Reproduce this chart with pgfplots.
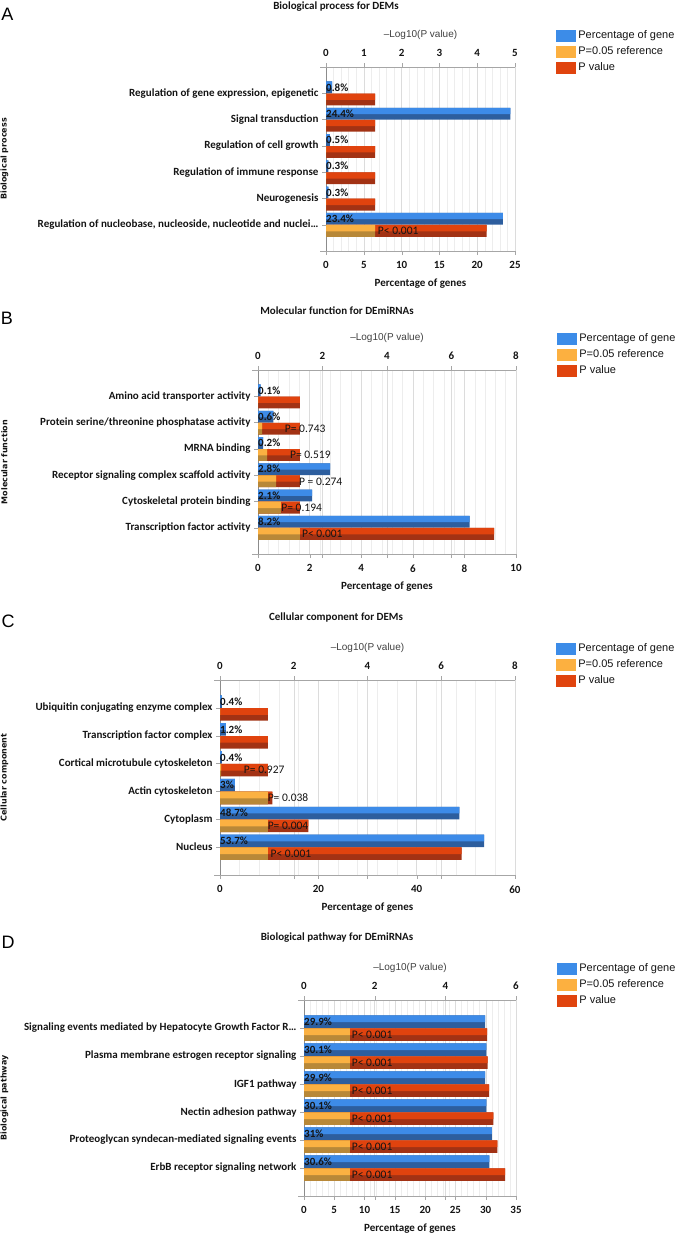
\documentclass[border=0pt]{standalone}
\usepackage{fontspec}
\setmainfont{Carlito}
\newfontfamily\lib{Liberation Sans}
\newfontfamily\dvs{DejaVu Sans}
\usepackage{pgfplots}
\usepackage{pgfplotstable}
\pgfplotsset{compat=1.18}

\definecolor{bluL}{HTML}{3D8BE8}
\definecolor{bluD}{HTML}{2D5E9E}
\definecolor{oraL}{HTML}{FBB142}
\definecolor{oraD}{HTML}{B88838}
\definecolor{redL}{HTML}{E0430E}
\definecolor{redD}{HTML}{A23214}
\definecolor{legB}{HTML}{3C8CE8}
\definecolor{legO}{HTML}{FCB040}
\definecolor{legR}{HTML}{E0440E}
\definecolor{gridM}{HTML}{DCDCDC}
\definecolor{gridN}{HTML}{EDEDED}
\definecolor{axG}{HTML}{A6A6A6}
\definecolor{axY}{HTML}{8C8C8C}
\definecolor{logG}{HTML}{404040}
\definecolor{lblC}{HTML}{141414}

\newcommand\catfont{\bfseries\fontsize{11}{12}\selectfont}
\newcommand\tickfont{\bfseries\fontsize{11}{12}\selectfont}
\newcommand\ttlfont{\bfseries\fontsize{11}{12}\selectfont}
\newcommand\logfont{\lib\fontsize{10}{12}\selectfont}
\newcommand\legfont{\lib\fontsize{11}{12}\selectfont}
\newcommand\ylfont{\dvs\bfseries\fontsize{8}{9}\selectfont}
\newcommand\pctfont{\bfseries\fontsize{11}{12}\selectfont}
\newcommand\pfont{\fontsize{11.5}{12}\selectfont}
\newcommand\letfont{\lib\fontsize{18}{20}\selectfont}

% k = category position (1 = top); pct = percentage of genes;
% red = P value bar (-log10 scale, at least the 1.301 reference);
% ora = reference bar (min of -log10 P and 1.301)
\pgfplotstableread{
k pct red ora
1 0.8 1.301 0
2 24.4 1.301 0
3 0.5 1.301 0
4 0.3 1.301 0
5 0.3 1.301 0
6 23.4 4.25 1.301
}\tabA
\pgfplotstableread{
k pct red ora
1 0.1 1.301 0
2 0.6 1.301 0.129
3 0.2 1.301 0.285
4 2.8 1.301 0.562
5 2.1 1.301 0.712
6 8.2 7.32 1.301
}\tabB
\pgfplotstableread{
k pct red ora
1 0.4 1.301 0
2 1.2 1.301 0
3 0.4 1.301 0.033
4 3 1.42 1.301
5 48.7 2.398 1.301
6 53.7 6.55 1.301
}\tabC
\pgfplotstableread{
k pct red ora
1 29.9 5.18 1.301
2 30.1 5.20 1.301
3 29.9 5.24 1.301
4 30.1 5.36 1.301
5 31 5.47 1.301
6 30.6 5.69 1.301
}\tabD

\pgfplotsset{
  base/.style={scale only axis, clip=false, y dir=reverse, ymin=0, ymax=7, xmin=0,
    anchor=south west,
    /pgf/number format/assume math mode=true,
    tick align=outside, major tick length=4pt, minor tick length=0pt,
    xticklabel style={font=\tickfont, text=lblC}, xticklabel shift=3pt},
  bot/.style={base, axis x line*=bottom, axis y line*=left, ytick={1,...,6},
    yticklabel style={font=\catfont, text=lblC},
    xmajorgrids, xminorgrids,
    major grid style={draw=gridM}, minor grid style={draw=gridN},
    x axis line style={draw=axG, shorten <=-6pt}, y axis line style={draw=axY, line width=0.8pt},
    xtick style={draw=axG}, ytick style={draw=axG},
    extra x tick style={grid=major, tick style={draw=none}},
    extra x tick labels={},
    xlabel={Percentage of genes},
    xlabel style={font=\ttlfont, text=lblC, at={(axis description cs:0.5,0)}, anchor=center, yshift=-33pt},
    ylabel style={font=\ylfont, text=lblC, anchor=center},
    legend cell align=left,
    legend style={at={(axis description cs:1,1)}, anchor=north west, xshift=41pt, yshift=37pt,
      draw=none, fill=none, inner sep=0pt, outer sep=0pt, row sep=4.5pt, font=\legfont,
      nodes={inner xsep=3pt, inner ysep=0pt, text=lblC}}},
  top/.style={base, axis x line*=top, axis y line=none, ytick=\empty,
    x axis line style={draw=axG, shorten <=-6pt}, xtick style={draw=axG},
    xlabel={–Log10(P value)},
    xlabel style={font=\logfont, text=logG, at={(axis description cs:0.5,1)}, anchor=center, yshift=32pt}},
  legbox/.style={legend image code/.code={\fill[#1] (0pt,-5.5pt) rectangle (19pt,5.5pt);}},
  % dark full bar, then light upper part of the same bar
  barD/.style={xbar, bar width=0.45, bar shift=0pt, draw=none, fill=#1, forget plot},
  barL/.style={xbar, bar width=0.24, bar shift=-0.105, draw=none, fill=#1, forget plot},
  pct/.style={draw=none, forget plot, point meta=explicit,
    nodes near coords={\pgfmathprintnumber{\pgfplotspointmeta}\%},
    every node near coord/.append style={anchor=west, inner sep=0pt, font=\pctfont, text=lblC}},
  plab/.style={draw=none, forget plot, point meta=explicit symbolic,
    nodes near coords={\pgfplotspointmeta},
    every node near coord/.append style={anchor=west, inner sep=0pt, font=\pfont, text=lblC}},
}

\newcommand\mylegend{%
  \addlegendimage{legbox=legB}\addlegendentry{Percentage of gene}
  \addlegendimage{legbox=legO}\addlegendentry{P=0.05 reference}
  \addlegendimage{legbox=legR}\addlegendentry{P value}}

% blue bars + percentage labels for a table
\newcommand\bluebars[1]{%
  \addplot[barD=bluD] table[x=pct, y expr=\thisrow{k}-0.225] {#1};
  \addplot[barL=bluL] table[x=pct, y expr=\thisrow{k}-0.225] {#1};
  \addplot[pct] table[x expr=0, y expr=\thisrow{k}-0.225, meta=pct] {#1};}
% red and orange bars for a table
\newcommand\pbars[1]{%
  \addplot[barD=redD] table[x=red, y expr=\thisrow{k}+0.235] {#1};
  \addplot[barL=redL] table[x=red, y expr=\thisrow{k}+0.235] {#1};
  \addplot[barD=oraD] table[x=ora, y expr=\thisrow{k}+0.235] {#1};
  \addplot[barL=oraL] table[x=ora, y expr=\thisrow{k}+0.235] {#1};}

\begin{document}
\begin{tikzpicture}
\path[use as bounding box] (0pt,0pt) rectangle (677pt,-1236pt);

% ---------------- Panel A ----------------
\node[font=\letfont] at (7.5pt,-14.5pt) {A};
\node[font=\ttlfont, text=lblC] at (336pt,-7pt) {Biological process for DEMs};
\begin{axis}[bot, at={(326pt,-251pt)}, width=189pt, height=184pt,
  xmax=25, xtick={0,5,...,25}, minor x tick num=4,
  yticklabels={{Regulation of gene expression, epigenetic},{Signal transduction},{Regulation of cell growth},{Regulation of immune response},{Neurogenesis},{Regulation of nucleobase, nucleoside, nucleotide and nuclei…}},
  ylabel={Biological process}, ylabel style={at={(axis description cs:-1.701,0.5)}}]
\mylegend
\bluebars{\tabA}
\end{axis}
\begin{axis}[top, at={(326pt,-251pt)}, width=189pt, height=184pt, xmax=5, xtick={0,1,...,5}]
\pbars{\tabA}
\addplot[plab] coordinates {(1.37,6.235)[P< 0.001]};
\end{axis}

% ---------------- Panel B ----------------
\node[font=\letfont] at (7pt,-318.5pt) {B};
\node[font=\ttlfont, text=lblC] at (337pt,-311pt) {Molecular function for DEmiRNAs};
\begin{axis}[bot, at={(258pt,-554pt)}, width=258pt, height=184pt,
  xmax=10, xtick={0,2,...,10}, minor x tick num=4, extra x ticks={2.5,5,7.5},
  yticklabels={{Amino acid transporter activity},{Protein serine/threonine phosphatase activity},{MRNA binding},{Receptor signaling complex scaffold activity},{Cytoskeletal protein binding},{Transcription factor activity}},
  ylabel={Molecular function}, ylabel style={at={(axis description cs:-0.9826,0.5)}}]
\mylegend
\bluebars{\tabB}
\end{axis}
\begin{axis}[top, at={(258pt,-554pt)}, width=258pt, height=184pt, xmax=8, xtick={0,2,...,8}]
\pbars{\tabB}
\addplot[plab] coordinates {(0.83,2.235)[P= 0.743] (0.99,3.235)[P= 0.519] (1.27,4.235)[P = 0.274] (0.72,5.235)[P= 0.194] (1.36,6.235)[P< 0.001]};
\end{axis}

% ---------------- Panel C ----------------
\node[font=\letfont] at (8pt,-621.5pt) {C};
\node[font=\ttlfont, text=lblC] at (336pt,-617pt) {Cellular component for DEMs};
\begin{axis}[bot, at={(220pt,-875pt)}, width=295pt, height=195pt,
  xmax=60, xtick={0,20,40,60}, minor x tick num=4, extra x ticks={15,30,45},
  yticklabels={{Ubiquitin conjugating enzyme complex},{Transcription factor complex},{Cortical microtubule cytoskeleton},{Actin cytoskeleton},{Cytoplasm},{Nucleus}},
  ylabel={Cellular component}, ylabel style={at={(axis description cs:-0.7305,0.5)}}]
\mylegend
\bluebars{\tabC}
\end{axis}
\begin{axis}[top, at={(220pt,-875pt)}, width=295pt, height=195pt, xmax=8, xtick={0,2,...,8}]
\pbars{\tabC}
\addplot[plab] coordinates {(0.645,3.235)[P= 0.927] (1.29,4.235)[P= 0.038] (1.29,5.235)[P= 0.004] (1.37,6.235)[P< 0.001]};
\end{axis}

% ---------------- Panel D ----------------
\node[font=\letfont] at (8pt,-942.5pt) {D};
\node[font=\ttlfont, text=lblC] at (337pt,-938pt) {Biological pathway for DEmiRNAs};
\begin{axis}[bot, at={(304pt,-1196pt)}, width=212pt, height=196pt,
  xmax=35, xtick={0,5,...,35}, minor x tick num=4, extra x ticks={11.667,23.333},
  yticklabels={{Signaling events mediated by Hepatocyte Growth Factor R…},{Plasma membrane estrogen receptor signaling},{IGF1 pathway},{Nectin adhesion pathway},{Proteoglycan syndecan-mediated signaling events},{ErbB receptor signaling network}},
  ylabel={Biological pathway}, ylabel style={at={(axis description cs:-1.4127,0.5)}}]
\mylegend
\bluebars{\tabD}
\end{axis}
\begin{axis}[top, at={(304pt,-1196pt)}, width=212pt, height=196pt, xmax=6, xtick={0,2,4,6}]
\pbars{\tabD}
\addplot[plab] coordinates {(1.35,1.235)[P< 0.001] (1.35,2.235)[P< 0.001] (1.35,3.235)[P< 0.001] (1.35,4.235)[P< 0.001] (1.35,5.235)[P< 0.001] (1.35,6.235)[P< 0.001]};
\end{axis}
\end{tikzpicture}
\end{document}
